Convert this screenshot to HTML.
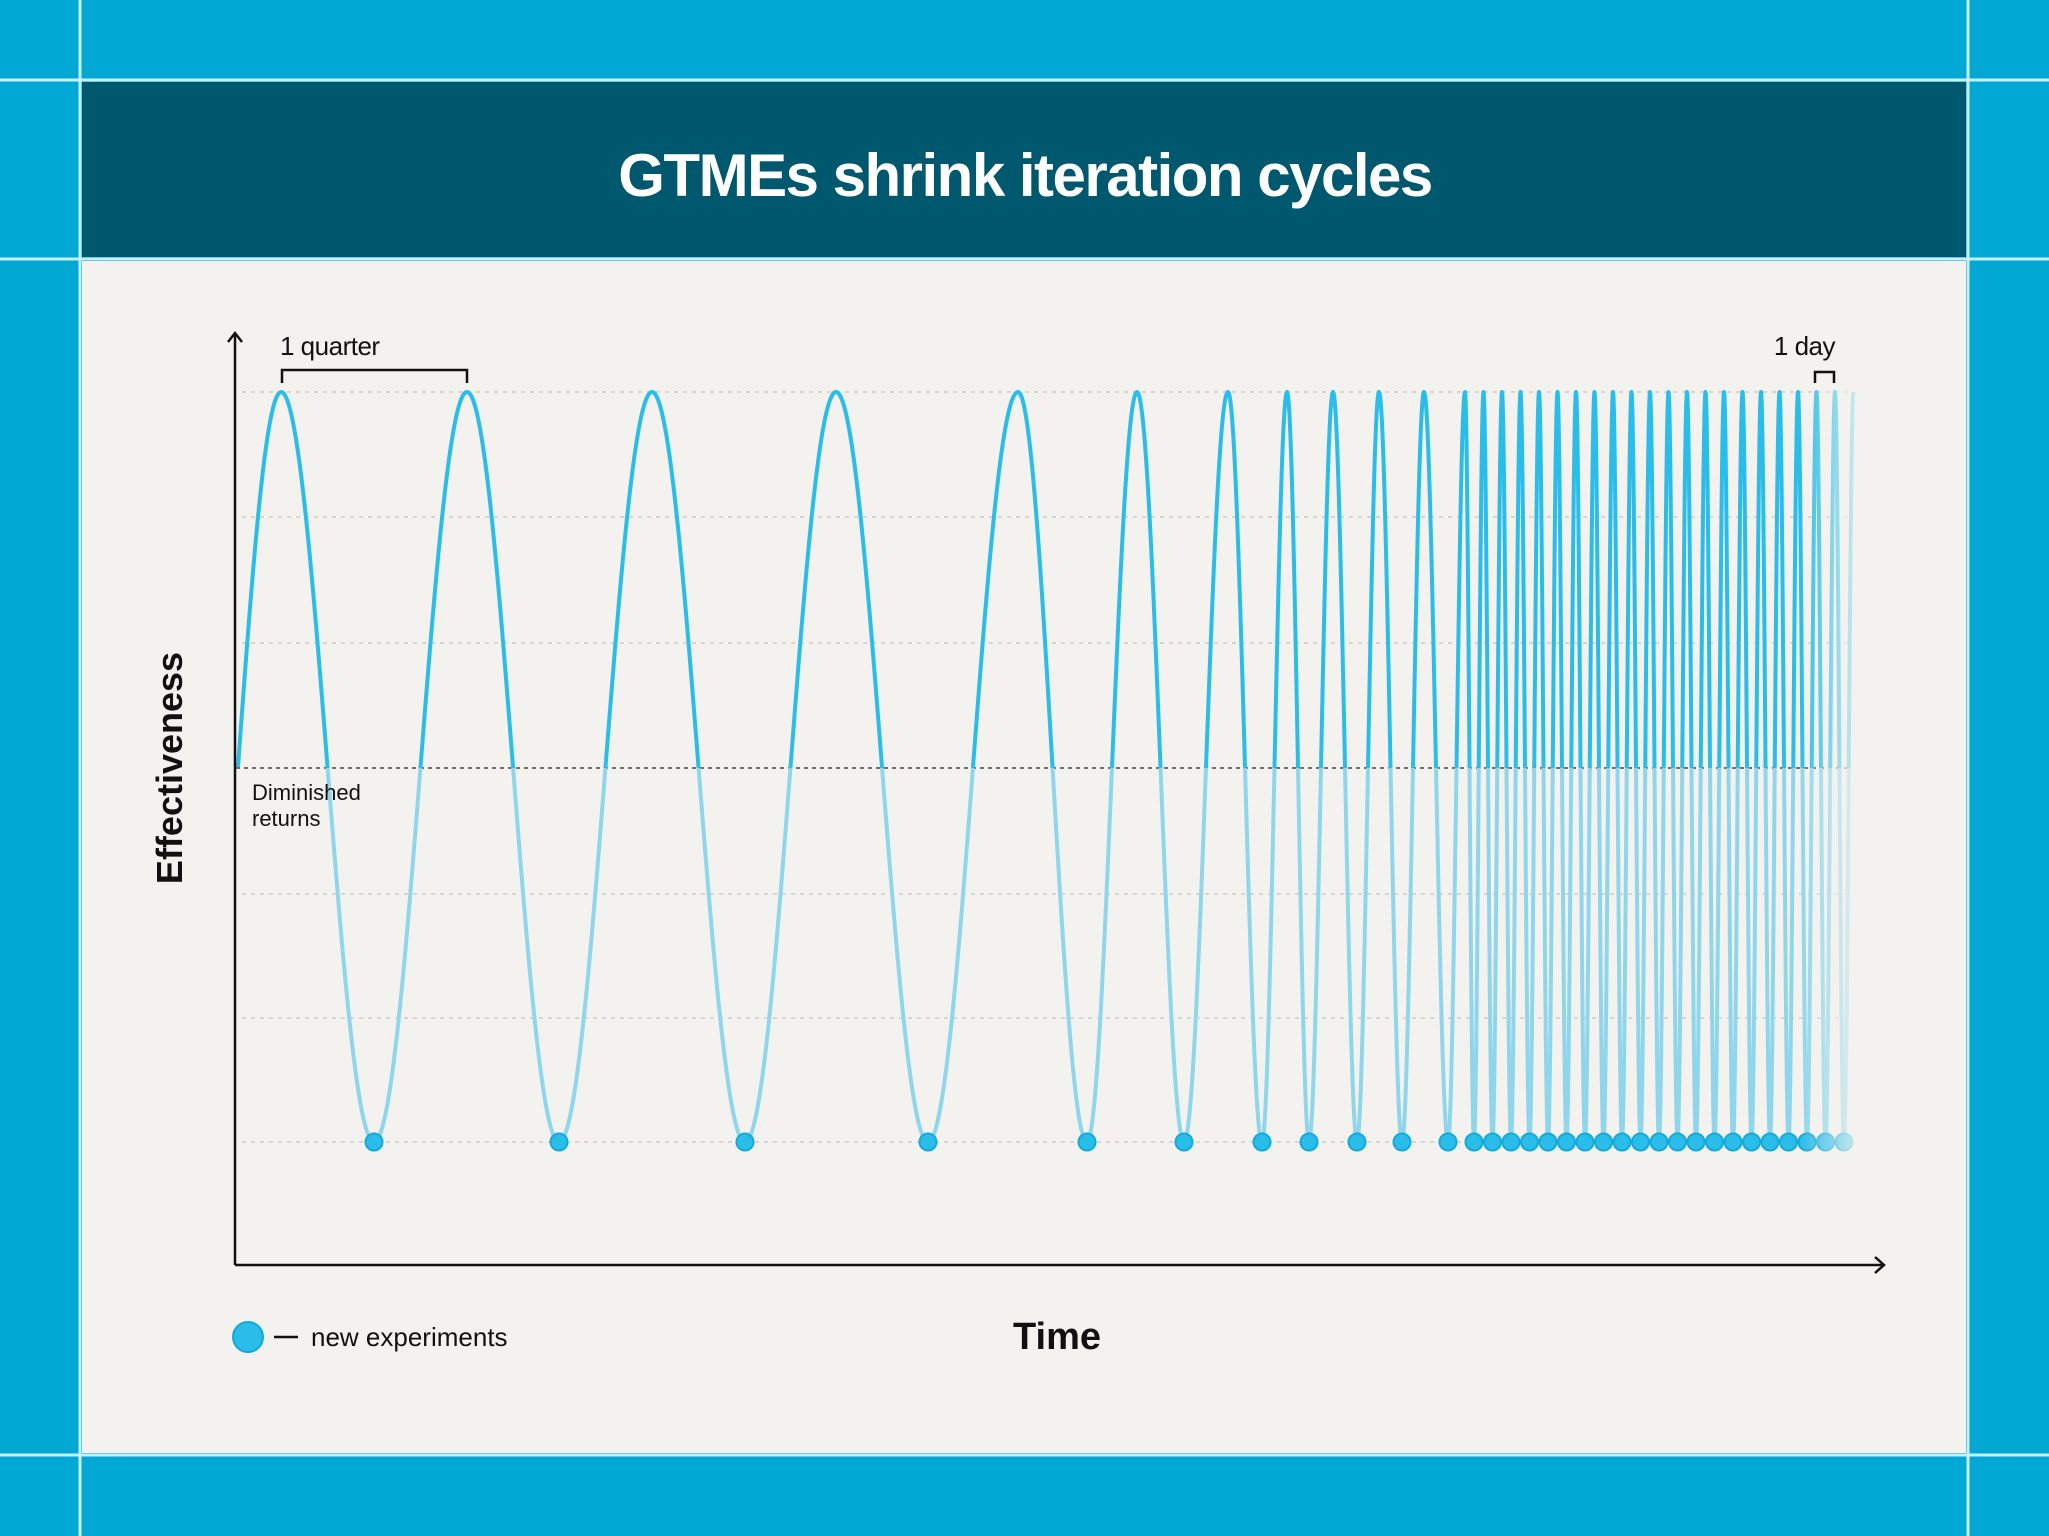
<!DOCTYPE html>
<html><head><meta charset="utf-8"><style>
html,body{margin:0;padding:0;background:#02a8d4;}
svg{display:block;}
text{font-family:"Liberation Sans",sans-serif;}
</style></head><body>
<svg id="s" width="2049" height="1536" viewBox="0 0 2049 1536" xmlns="http://www.w3.org/2000/svg">
<defs>
<clipPath id="up"><rect x="0" y="0" width="2049" height="768"/></clipPath>
<clipPath id="dn"><rect x="0" y="768" width="2049" height="800"/></clipPath>
<linearGradient id="fade" x1="0" x2="1" y1="0" y2="0">
<stop offset="0" stop-color="#f3f2ee" stop-opacity="0"/>
<stop offset="1" stop-color="#f3f2ee" stop-opacity="1"/>
</linearGradient>
</defs>
<rect width="2049" height="1536" fill="#02a8d4"/>
<rect x="82" y="82" width="1884" height="175" fill="#00586f"/>
<rect x="82" y="261" width="1884" height="1192" fill="#f3f2ee"/>
<g stroke="#c9f0f8" stroke-width="3">
<line x1="80" y1="0" x2="80" y2="1536"/>
<line x1="1968" y1="0" x2="1968" y2="1536"/>
<line x1="0" y1="80" x2="2049" y2="80"/>
<line x1="0" y1="259" x2="2049" y2="259"/>
<line x1="0" y1="1455" x2="2049" y2="1455"/>
</g>
<text x="1025" y="196" text-anchor="middle" fill="#fff" font-size="60" font-weight="bold" letter-spacing="-1.5">GTMEs shrink iteration cycles</text>

<g stroke="#d8d5ce" stroke-width="2" stroke-dasharray="4 5">
<line x1="242" y1="392" x2="1850" y2="392"/>
<line x1="242" y1="517" x2="1850" y2="517"/>
<line x1="242" y1="643" x2="1850" y2="643"/>
<line x1="242" y1="894" x2="1850" y2="894"/>
<line x1="242" y1="1018" x2="1850" y2="1018"/>
<line x1="242" y1="1142" x2="1850" y2="1142"/>
</g>
<line x1="236" y1="768" x2="1850" y2="768" stroke="#444" stroke-width="1.5" stroke-dasharray="4 4"/>

<g id="curves" fill="none" stroke-width="4" stroke-linejoin="round"></g>
<g id="dots"></g>

<rect x="1800" y="380" width="70" height="780" fill="url(#fade)"/>

<g stroke="#111" stroke-width="2.5" fill="none">
<line x1="235" y1="333" x2="235" y2="1265"/>
<polyline points="228,342 235,333 242,342"/>
<line x1="235" y1="1265" x2="1884" y2="1265"/>
<polyline points="1875,1257 1884,1265 1875,1273"/>
<polyline points="282,383 282,370 467,370 467,383"/>
<polyline points="1815,383 1815,372 1834,372 1834,383"/>
</g>
<text x="280" y="355" font-size="26" fill="#111" letter-spacing="-0.5">1 quarter</text>
<text x="1835" y="355" font-size="26" fill="#111" text-anchor="end" letter-spacing="-0.5">1 day</text>
<text x="252" y="800" font-size="22" fill="#111">Diminished</text>
<text x="252" y="826" font-size="22" fill="#111">returns</text>
<text transform="translate(182,768) rotate(-90)" text-anchor="middle" font-size="36" font-weight="bold" fill="#111">Effectiveness</text>
<text x="1057" y="1349" text-anchor="middle" font-size="38" font-weight="bold" fill="#111">Time</text>
<circle cx="248" cy="1337" r="15" fill="#2bbde9" stroke="#14a9d9" stroke-width="2"/>
<line x1="274" y1="1337" x2="298" y2="1337" stroke="#111" stroke-width="2.5"/>
<text x="311" y="1346" font-size="26" fill="#111">new experiments</text>
</svg>
<script>
(function(){
var peaks=[281,467,652,836,1018,1137,1228,1287,1333,1379,1424];
var troughs=[374,559,745,928,1087,1184,1262,1309,1357,1402,1448];
for(var k=0;k<=21;k++)peaks.push(1465+18.5*k);
for(var k=0;k<=20;k++){troughs.push(1474+18.5*k);}
var ext=[];
for(var i=0;i<peaks.length;i++){ext.push([peaks[i],392]);if(i<troughs.length)ext.push([troughs[i],1142]);}
var P=392,T=1142,M=767;
var d="M238,"+M;
var x0=238,x1=ext[0][0];
for(var j=1;j<=20;j++){var f=j/20;var x=x0+(x1-x0)*f;var y=M-(M-P)*Math.sin(f*Math.PI/2);d+=" L"+x.toFixed(2)+","+y.toFixed(2);}
for(var i=0;i<ext.length-1;i++){
 var a=ext[i],b=ext[i+1];var n=Math.max(40,Math.round((b[0]-a[0])));
 for(var j=1;j<=n;j++){var f=j/n;var x=a[0]+(b[0]-a[0])*f;var y=a[1]+(b[1]-a[1])*(1-Math.cos(f*Math.PI))/2;d+=" L"+x.toFixed(2)+","+y.toFixed(2);}
}
var ns="http://www.w3.org/2000/svg";
var g=document.getElementById("curves");
[["dn","#8fd6ec"],["up","#2bbde9"]].forEach(function(c){
 var p=document.createElementNS(ns,"path");p.setAttribute("d",d);p.setAttribute("stroke",c[1]);p.setAttribute("clip-path","url(#"+c[0]+")");g.appendChild(p);});
var dg=document.getElementById("dots");
troughs.forEach(function(x){var c=document.createElementNS(ns,"circle");c.setAttribute("cx",x);c.setAttribute("cy",1142);c.setAttribute("r",8.5);c.setAttribute("fill","#2bbde9");c.setAttribute("stroke","#14a9d9");c.setAttribute("stroke-width","2");dg.appendChild(c);});
})();
</script>
</body></html>
